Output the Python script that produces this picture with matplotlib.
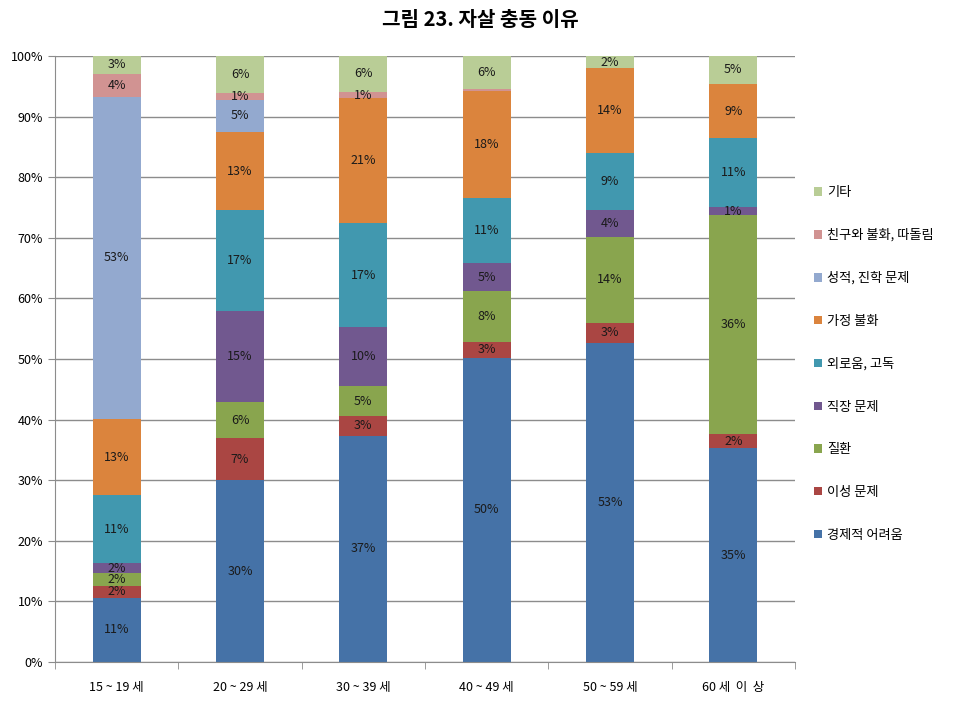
import matplotlib
matplotlib.use("Agg")
import matplotlib.pyplot as plt
import numpy as np
from matplotlib.patches import Patch

plt.rcParams['font.family'] = ['Noto Sans CJK KR', 'DejaVu Sans']

# ---------------------------------------------------------------- data
groups = ["15 ~ 19 세", "20 ~ 29 세", "30 ~ 39 세", "40 ~ 49 세",
          "50 ~ 59 세", "60 세  이  상"]
series = ["경제적 어려움", "이성 문제", "질환", "직장 문제", "외로움, 고독",
          "가정 불화", "성적, 진학 문제", "친구와 불화, 따돌림", "기타"]

economic   = [10.6, 30.0, 37.3, 50.2, 52.7, 35.3]
romance    = [2.0, 6.9, 3.3, 2.6, 3.3, 2.3]
illness    = [2.0, 6.0, 4.9, 8.4, 14.2, 36.1]
work       = [1.7, 15.0, 9.7, 4.6, 4.4, 1.4]
loneliness = [11.2, 16.6, 17.2, 10.8, 9.4, 11.3]
family     = [12.6, 12.9, 20.6, 17.6, 14.0, 9.0]
school     = [53.2, 5.4, 0.0, 0.0, 0.0, 0.0]
friends    = [3.8, 1.1, 1.1, 0.3, 0.0, 0.0]
other      = [2.9, 6.1, 5.9, 5.5, 2.0, 4.6]

colors = ["#4572A7", "#AA4643", "#89A54E", "#71588F", "#4198AF",
          "#DB843D", "#93A9CF", "#D19392", "#B9CD96"]

values = [economic, romance, illness, work, loneliness,
          family, school, friends, other]

# ---------------------------------------------------------------- plot
fig = plt.figure(figsize=(9.6, 7.2), dpi=100)
ax = fig.add_axes([0.0573, 0.0806, 0.7708, 0.8417])

x = np.arange(len(groups))
bottom = np.zeros(len(groups))
for name, vals, col in zip(series, values, colors):
    vals = np.array(vals)
    ax.bar(x, vals, bottom=bottom, width=0.39, color=col, label=name,
           zorder=2)
    for xi, b, v in zip(x, bottom, vals):
        if v >= 0.5:
            ax.text(xi, b + v / 2, f"{v:.0f}%", ha="center", va="center",
                    fontsize=9, color="#1a1a1a", zorder=3)
    bottom += vals

ax.set_xlim(-0.5, len(groups) - 0.5)
ax.set_ylim(0, 100)
ax.set_yticks(np.arange(0, 101, 10))
ax.set_yticklabels([f"{t}%" for t in range(0, 101, 10)], fontsize=9)
ax.yaxis.grid(True, color="#8c8c8c", linewidth=1.0, zorder=0)
ax.set_axisbelow(True)

ax.set_xticks(x)
ax.set_xticklabels(groups, fontsize=9)
ax.set_xticks(np.arange(-0.5, len(groups)), minor=True)
ax.tick_params(axis="x", which="major", length=0, pad=14)
ax.tick_params(axis="x", which="minor", length=5, color="#8c8c8c",
               direction="out")
ax.tick_params(axis="y", length=5, color="#8c8c8c", direction="out")

for s in ("top", "right"):
    ax.spines[s].set_visible(False)
for s in ("left", "bottom"):
    ax.spines[s].set_color("#8c8c8c")

handles = [Patch(facecolor=c, label=n) for n, c in zip(series, colors)]
ax.legend(handles[::-1], series[::-1], loc="upper left",
          bbox_to_anchor=(1.01, 0.805), frameon=False, fontsize=9.5,
          labelspacing=2.25, handlelength=0.6, handleheight=0.6,
          handletextpad=0.4)

fig.suptitle("그림 23. 자살 충동 이유", fontsize=14.5, fontweight="bold",
             x=0.5, y=0.988)

fig.savefig("out.png", dpi=100)
